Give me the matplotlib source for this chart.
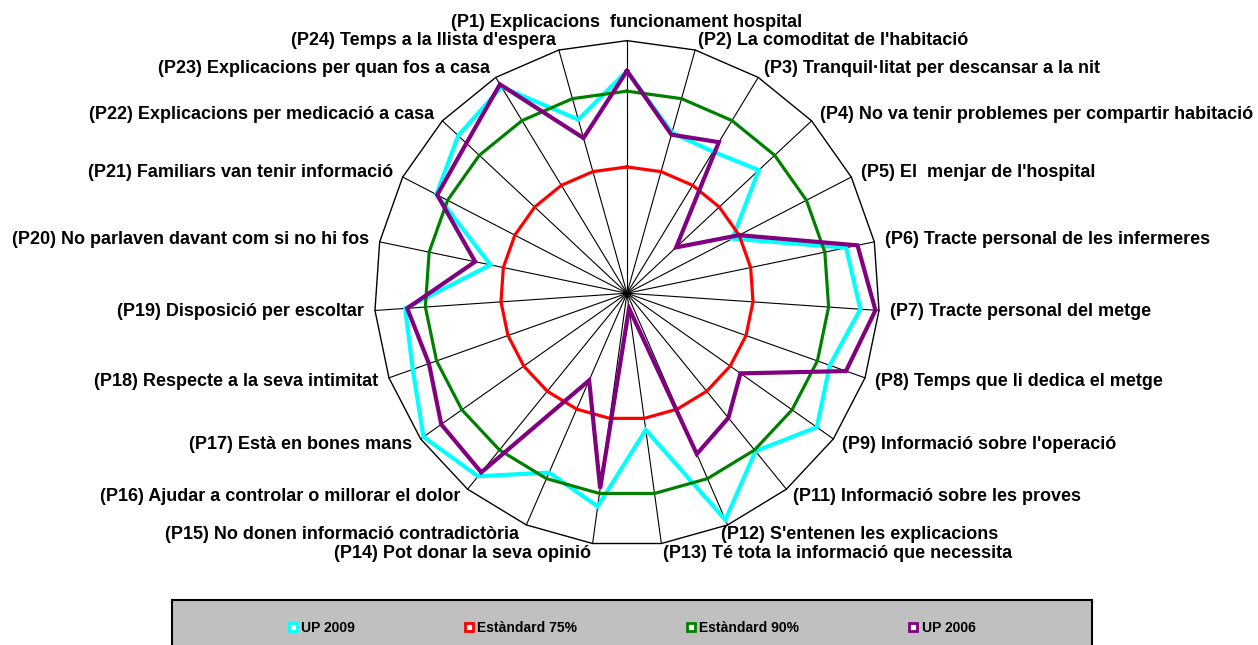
import numpy as np
import matplotlib.pyplot as plt
from matplotlib.lines import Line2D
from matplotlib.patches import Rectangle

plt.rcParams['font.family'] = ['Liberation Sans', 'DejaVu Sans']

categories = [
    "(P1) Explicacions  funcionament hospital",
    "(P2) La comoditat de l'habitació",
    "(P3) Tranquil·litat per descansar a la nit",
    "(P4) No va tenir problemes per compartir habitació",
    "(P5) El  menjar de l'hospital",
    "(P6) Tracte personal de les infermeres",
    "(P7) Tracte personal del metge",
    "(P8) Temps que li dedica el metge",
    "(P9) Informació sobre l'operació",
    "(P11) Informació sobre les proves",
    "(P12) S'entenen les explicacions",
    "(P13) Té tota la informació que necessita",
    "(P14) Pot donar la seva opinió",
    "(P15) No donen informació contradictòria",
    "(P16) Ajudar a controlar o millorar el dolor",
    "(P17) Està en bones mans",
    "(P18) Respecte a la seva intimitat",
    "(P19) Disposició per escoltar",
    "(P20) No parlaven davant com si no hi fos",
    "(P21) Familiars van tenir informació",
    "(P22) Explicacions per medicació a casa",
    "(P23) Explicacions per quan fos a casa",
    "(P24) Temps a la llista d'espera",
]

up_2009 = [94, 83, 82.8, 85.7, 73.5, 94.3, 96.3, 92.6, 96, 90.3, 98.9, 77.3,
           92.6, 88.7, 96.7, 99.3, 95, 94, 77.6, 92.5, 95.7, 97.8, 85.7]
up_2006 = [94, 82.6, 85, 63.3, 75, 96.6, 99.3, 96, 77.5, 81.8, 84.7, 53,
           89, 68.8, 95.7, 95, 91.6, 93.6, 80.7, 92.3, 93.5, 98.4, 81.9]
estandard_75 = [75] * len(categories)
estandard_90 = [90] * len(categories)

series_names = ["UP 2009", "Estàndard 75%", "Estàndard 90%", "UP 2006"]
series_colors = ["#00FFFF", "#FF0000", "#008000", "#800080"]

r_min, r_max = 50, 100


def closed(v):
    return list(v) + [v[0]]


n = len(categories)
theta = np.linspace(0, 2 * np.pi, n, endpoint=False)
theta_c = closed(theta)

fig = plt.figure(figsize=(12.58, 6.45), dpi=100)
ax = fig.add_axes([0.2976, 0.1537, 0.4016, 0.7833], polar=True)
ax.set_theta_zero_location('N')
ax.set_theta_direction(-1)
ax.set_ylim(r_min, r_max)
ax.axis('off')

# spokes and outer polygon
for t in theta:
    ax.plot([t, t], [r_min, r_max], color='black', lw=0.8, clip_on=False)
ax.plot(theta_c, [r_max] * (n + 1), color='black', lw=1.0, clip_on=False)

# series
for vals, col, lw in zip([up_2009, estandard_75, estandard_90, up_2006],
                         series_colors, [3.0, 2.3, 2.3, 3.0]):
    ax.plot(theta_c, closed(vals), color=col, lw=lw, clip_on=False,
            solid_joinstyle='miter')

# category labels
px = 0.72  # pixels -> points
for t, lab in zip(theta, categories):
    s, c = np.sin(t), np.cos(t)
    if abs(s) < 0.01:
        ha, va = 'center', 'bottom'
        dx, dy = 0, 10
    else:
        ha = 'left' if s > 0 else 'right'
        va = 'center'
        dx, dy = 11 * s, 10 * c
        if abs(c) > 0.9 and abs(c) < 0.95:
            dx = -7
    ax.annotate(lab, xy=(t, r_max), xytext=(dx * px, dy * px),
                textcoords='offset points', ha=ha, va=va,
                fontsize=13, fontweight='bold', annotation_clip=False)

# legend box
fig.add_artist(Rectangle((172 / 1258, -0.02), 920 / 1258, 45 / 645 + 0.02,
                         transform=fig.transFigure, facecolor='#C0C0C0',
                         edgecolor='black', lw=1.5))
handles = [Line2D([], [], ls='none', marker='s', markersize=5.5,
                  markerfacecolor='white', markeredgecolor=col,
                  markeredgewidth=2) for col in series_colors]
fig.legend(handles, series_names, loc='center', ncol=4,
           bbox_to_anchor=(632 / 1258, 1 - 628 / 645), frameon=False,
           columnspacing=7.9, handlelength=0.6, handletextpad=0.3,
           prop=dict(weight='bold', size=10))

fig.savefig('out.png', dpi=100)
